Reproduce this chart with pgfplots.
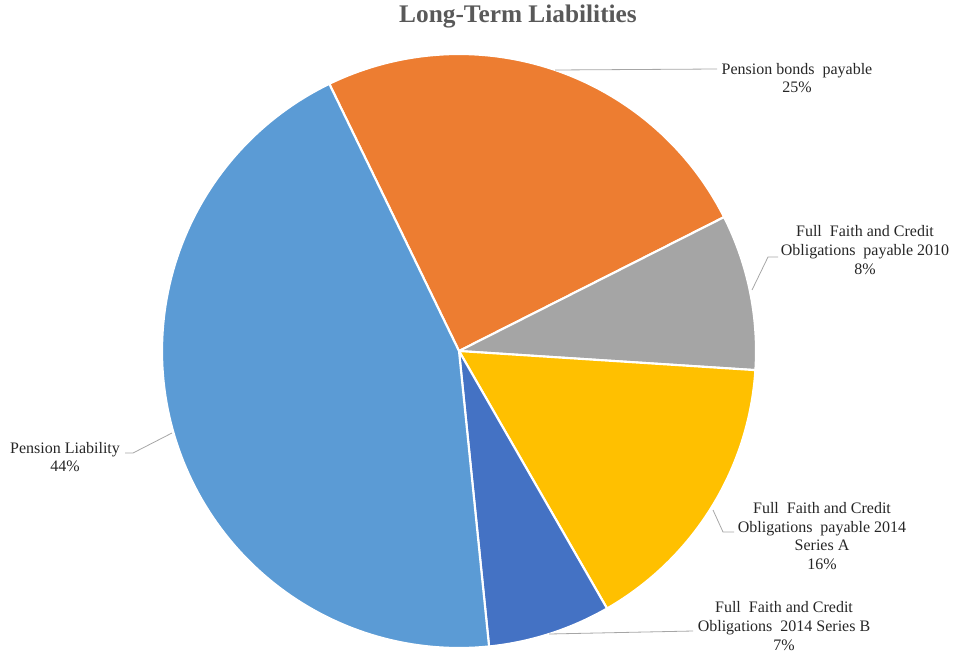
\documentclass[border=0pt]{standalone}
\usepackage{pgfplots}
\pgfplotsset{compat=1.18}
\usepackage{fontspec}
\setmainfont{Liberation Serif}
\definecolor{cLiab}{HTML}{5B9BD5}
\definecolor{cBonds}{HTML}{ED7D31}
\definecolor{cTen}{HTML}{A5A5A5}
\definecolor{cA}{HTML}{FFC000}
\definecolor{cB}{HTML}{4472C4}
\definecolor{txt}{HTML}{262626}
\definecolor{ttl}{HTML}{595959}
\definecolor{lead}{HTML}{A6A6A6}
\tikzset{lbl/.style={font=\fontsize{12}{14}\selectfont, text=txt, align=center, inner sep=0pt}}
% shares in percent, clockwise from the start angle
\def\vBonds{24.75}
\def\vTen{8.47}
\def\vA{15.67}
\def\vB{6.69}
\def\vLiab{44.42}
\def\startangle{115.9}
\def\cx{459}\def\cy{351}\def\R{297}
\pgfmathsetmacro\aA{\startangle}
\pgfmathsetmacro\aB{\aA-3.6*\vBonds}
\pgfmathsetmacro\aC{\aB-3.6*\vTen}
\pgfmathsetmacro\aD{\aC-3.6*\vA}
\pgfmathsetmacro\aE{\aD-3.6*\vB}
\pgfmathsetmacro\aF{\aE-3.6*\vLiab}
\begin{document}
\begin{tikzpicture}
\begin{axis}[
  scale only axis, width=716.25pt, height=489.75pt,
  xmin=0, xmax=955, ymin=0, ymax=653, y dir=reverse,
  hide axis, clip=false,
  slice/.style={draw=white, line width=1.6pt, samples=120, line join=round},
]
\path (axis cs:0,0) rectangle (axis cs:955,653);
\addplot[slice, fill=cBonds, domain=\aB:\aA] ({\cx+\R*cos(x)},{\cy-\R*sin(x)}) -- (axis cs:\cx,\cy) -- cycle;
\addplot[slice, fill=cTen, domain=\aC:\aB] ({\cx+\R*cos(x)},{\cy-\R*sin(x)}) -- (axis cs:\cx,\cy) -- cycle;
\addplot[slice, fill=cA, domain=\aD:\aC] ({\cx+\R*cos(x)},{\cy-\R*sin(x)}) -- (axis cs:\cx,\cy) -- cycle;
\addplot[slice, fill=cB, domain=\aE:\aD] ({\cx+\R*cos(x)},{\cy-\R*sin(x)}) -- (axis cs:\cx,\cy) -- cycle;
\addplot[slice, fill=cLiab, domain=\aF:\aE] ({\cx+\R*cos(x)},{\cy-\R*sin(x)}) -- (axis cs:\cx,\cy) -- cycle;
% leader lines
\draw[lead, line width=0.6pt] (axis cs:555,70) -- (axis cs:717,69);
\draw[lead, line width=0.6pt] (axis cs:752,290) -- (axis cs:768,257) -- (axis cs:778,257);
\draw[lead, line width=0.6pt] (axis cs:172,433) -- (axis cs:133,453) -- (axis cs:125,453);
\draw[lead, line width=0.6pt] (axis cs:713,510) -- (axis cs:723,532) -- (axis cs:734,532);
\draw[lead, line width=0.6pt] (axis cs:549,634) -- (axis cs:693,631);
% labels
\node[lbl] at (axis cs:797,78) {Pension bonds\ \ payable\\25\%};
\node[lbl] at (axis cs:865,250) {Full\ \ Faith and Credit\\Obligations\ \ payable 2010\\8\%};
\node[lbl] at (axis cs:65,457) {Pension Liability\\44\%};
\node[lbl] at (axis cs:822,536) {Full\ \ Faith and Credit\\Obligations\ \ payable 2014\\Series A\\16\%};
\node[lbl] at (axis cs:784,626) {Full\ \ Faith and Credit\\Obligations\ \ 2014 Series B\\7\%};
\node[font=\fontsize{19}{22}\selectfont\bfseries, text=ttl, inner sep=0pt] at (axis cs:518,17) {Long-Term Liabilities};
\end{axis}
\end{tikzpicture}
\end{document}
